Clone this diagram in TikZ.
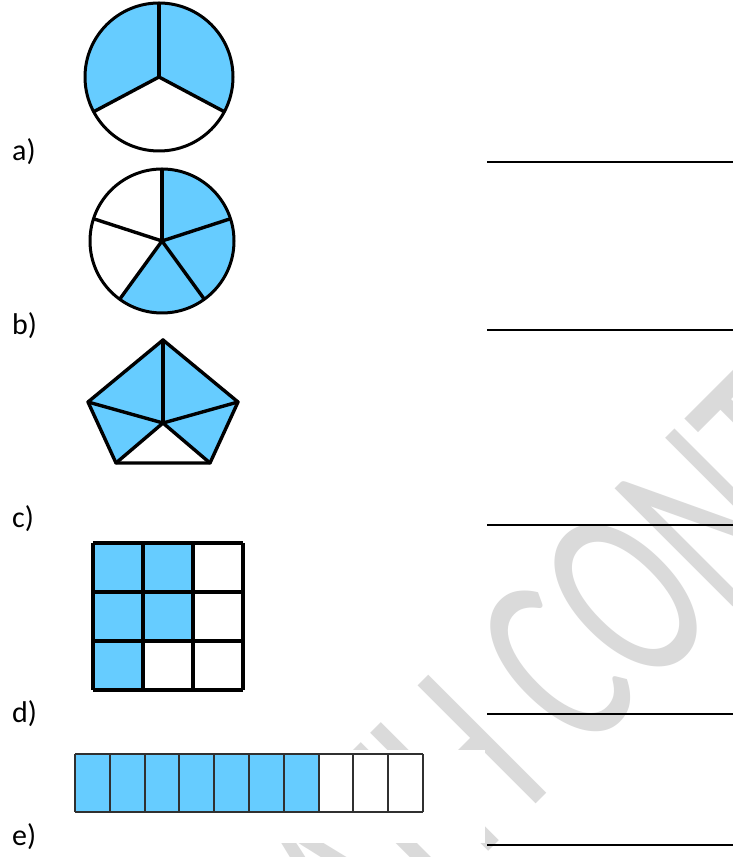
\documentclass[tikz,border=0pt]{standalone}
\usepackage{fontspec}
\setmainfont{Carlito}
\definecolor{fillblue}{HTML}{66CCFF}
\definecolor{wmgray}{HTML}{DADADA}
\definecolor{bargray}{HTML}{303030}
\begin{document}
\begin{tikzpicture}[x=1pt,y=1pt,
  outl/.style={line width=3pt, line join=round},
  spoke/.style={line width=3.4pt, line cap=round},
  gridln/.style={line width=3.4pt},
  barln/.style={line width=2pt, draw=bargray},
  lbl/.style={anchor=base west, inner sep=0pt, font=\fontsize{30}{36}\selectfont},
  ansline/.style={line width=1.8pt},
  wmark/.style={anchor=base west, inner sep=0pt, rotate=45, text=wmgray}]
\useasboundingbox (0,0) rectangle (733,857);
\fill[white] (0,0) rectangle (733,857);
% watermark
\begin{scope}
\clip (0,0) rectangle (733,857);
\node[wmark] (wm) at (260.5,-222.5) {\scalebox{1}[1.54]{\fontsize{169}{169}\selectfont MATH CONTENT}};
\end{scope}
\fill[white] (60,14) rectangle (485,107);
% a) circle in thirds
\coordinate (ca) at (159,780);
\fill[fillblue] (ca) -- ++(90:74) arc[start angle=90,end angle=208,radius=74] -- cycle;
\fill[fillblue] (ca) -- ++(-28:74) arc[start angle=-28,end angle=90,radius=74] -- cycle;
\draw[outl] (ca) circle[radius=74];
\foreach \a in {90,208,332} \draw[spoke] (ca) -- ++(\a:73);
% b) circle in fifths
\coordinate (cb) at (162,616);
\fill[fillblue] (cb) -- ++(-126:72) arc[start angle=-126,end angle=90,radius=72] -- cycle;
\draw[outl] (cb) circle[radius=72];
\foreach \a in {90,18,-54,-126,162} \draw[spoke] (cb) -- ++(\a:71);
% c) pentagon
\coordinate (pT) at (163,517);
\coordinate (pL) at (88,455);
\coordinate (pR) at (238,455);
\coordinate (pBL) at (116,394);
\coordinate (pBR) at (210,394);
\coordinate (pC) at (163,434);
\fill[fillblue] (pT) -- (pL) -- (pBL) -- (pC) -- (pBR) -- (pR) -- cycle;
\foreach \p in {pT,pL,pR,pBL,pBR} \draw[spoke] (pC) -- (\p);
\draw[outl, line width=3.4pt] (pT) -- (pR) -- (pBR) -- (pBL) -- (pL) -- cycle;
% d) 3x3 grid
\begin{scope}[shift={(93,167)}]
\fill[fillblue] (0,49) rectangle (100,147);
\fill[fillblue] (0,0) rectangle (50,49);
\draw[gridln] (0,0) grid[xstep=50,ystep=49] (150,147);
\end{scope}
% e) bar of tenths
\begin{scope}[shift={(75,45)}]
\fill[fillblue] (0,0) rectangle (243.6,58);
\draw[barln] (0,0) grid[xstep=34.8,ystep=58] (348,58);
\end{scope}
% labels
\node[lbl] (la) at (12,696) {a)};
\node[lbl] (lb) at (12,522) {b)};
\node[lbl] (lc) at (12,329) {c)};
\node[lbl] (ld) at (12,134) {d)};
\node[lbl] (le) at (12,12) {e)};
% answer lines
\foreach \n/\y in {a/695,b/527,c/332,d/143,e/12} {
  \coordinate (s\n) at (487,\y);
  \coordinate (t\n) at (733,\y);
  \draw[ansline] (s\n) -- (t\n);
}
\end{tikzpicture}
\end{document}
